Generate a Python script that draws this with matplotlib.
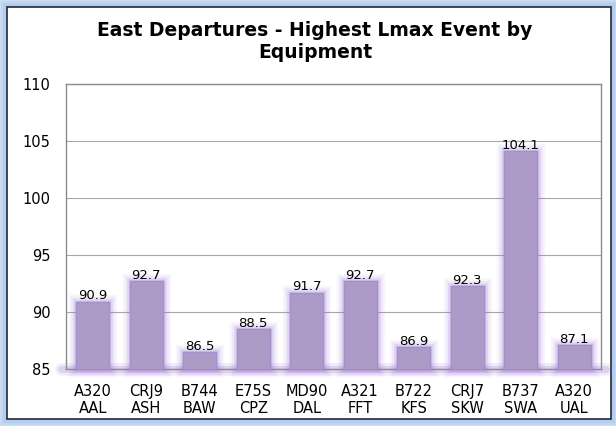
import matplotlib
matplotlib.use("Agg")
import matplotlib.pyplot as plt
from matplotlib.patches import Rectangle

equipment = ["A320", "CRJ9", "B744", "E75S", "MD90", "A321", "B722", "CRJ7", "B737", "A320"]
airlines = ["AAL", "ASH", "BAW", "CPZ", "DAL", "FFT", "KFS", "SKW", "SWA", "UAL"]
values = [90.9, 92.7, 86.5, 88.5, 91.7, 92.7, 86.9, 92.3, 104.1, 87.1]
labels = [f"{e}\n{a}" for e, a in zip(equipment, airlines)]
yticks = [85, 90, 95, 100, 105, 110]

plt.rcParams['font.family'] = ['DejaVu Sans']

W, H = 616, 426
fig = plt.figure(figsize=(W / 100, H / 100), dpi=100)
fig.patch.set_facecolor('#d6e4f5')

# outer frame with glow
for lw, a in [(10, 0.15), (7, 0.25), (4, 0.4)]:
    fig.patches.append(Rectangle((6/W, 6/H), 606/W, 414/H, transform=fig.transFigure,
                                 fill=False, edgecolor='#9fc1ea', linewidth=lw, alpha=a, zorder=-3))
fig.patches.append(Rectangle((7/W, 7/H), 604/W, 412/H, transform=fig.transFigure,
                             facecolor='white', edgecolor='#1f2a36', linewidth=1.2, zorder=-2))

ax = fig.add_axes([66/W, 1 - 369/H, 535/W, 285/H])
ax.set_zorder(2)
ax.set_facecolor('white')
ax.set_ylim(85, 110)
ax.set_xlim(-0.5, len(values) - 0.5)
ax.set_yticks(yticks)
ax.yaxis.grid(True, color='#a8a8a8', linewidth=0.8)
ax.set_axisbelow(True)
for s in ax.spines.values():
    s.set_color('#8c8c8c')
    s.set_linewidth(1.0)

x = range(len(values))
bw = 0.62
base = 85
heights = [v - base for v in values]
# glow layers
for lw, a in [(11, 0.06), (8, 0.09), (5, 0.14), (2.5, 0.22)]:
    ax.bar(x, heights, bottom=base, width=bw, color='none',
           edgecolor='#9466d0', linewidth=lw, alpha=a, zorder=2, clip_on=False)
ax.bar(x, heights, bottom=base, width=bw, color='#ab9bc6',
       edgecolor='#a690c9', linewidth=1.0, zorder=3, clip_on=False)
# glow along baseline
for lw, a in [(9, 0.12), (5, 0.2)]:
    ax.plot([-0.6, len(values) - 0.4], [85, 85], color='#9466d0', linewidth=lw, alpha=a,
            zorder=1, clip_on=False, solid_capstyle='round')

for xi, v in zip(x, values):
    ax.text(xi, v + 0.2, f"{v:.1f}", ha='center', va='baseline', fontsize=9.5, zorder=5)

ax.set_xticks(list(x))
ax.set_xticklabels(labels, fontsize=10.5, linespacing=1.15)
ax.tick_params(axis='x', length=0, pad=11)
ax.tick_params(axis='y', length=0, labelsize=10.5, pad=11)

fig.text(315/W, 1 - 41.5/H, "East Departures - Highest Lmax Event by\nEquipment", ha='center', va='center',
         fontsize=13.5, fontweight='bold', linespacing=1.15)

fig.savefig("out.png", dpi=100, facecolor=fig.get_facecolor())
